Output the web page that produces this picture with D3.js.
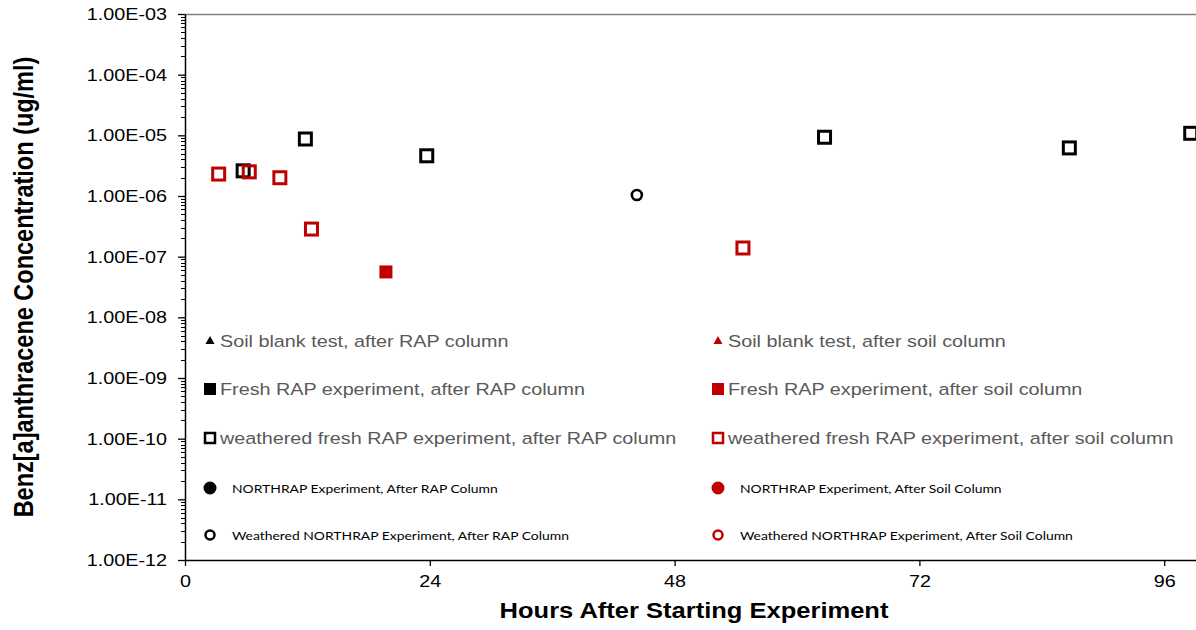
<!DOCTYPE html>
<html>
<head>
<meta charset="utf-8">
<script src="https://cdn.jsdelivr.net/npm/d3@7"></script>
<style>
  html, body { margin: 0; padding: 0; background: #fff; }
  svg { display: block; }
</style>
</head>
<body>
<svg id="chart" width="1196" height="630"></svg>
<script>
// Series: [hours, concentration ug/ml]
const weatheredFreshRapAfterRap = [[5.7, 2.6e-6], [11.8, 8.7e-6], [23.7, 4.6e-6], [62.7, 9.3e-6], [86.7, 6.2e-6], [98.6, 1.08e-5]];
const weatheredFreshRapAfterSoil = [[3.3, 2.3e-6], [6.3, 2.5e-6], [9.3, 2.0e-6], [12.4, 2.85e-7], [54.7, 1.39e-7]];
const freshRapAfterSoil = [[19.7, 5.6e-8]];
const weatheredNorthrapAfterRap = [[44.3, 1.04e-6]];

const xTicks = [0, 24, 48, 72, 96];
const yTicks = [1e-12, 1e-11, 1e-10, 1e-9, 1e-8, 1e-7, 1e-6, 1e-5, 1e-4, 1e-3];

const legendLeft = [
  {label: "Soil blank test, after RAP column", shape: "triangle", fill: "#000", stroke: null, big: true},
  {label: "Fresh RAP experiment, after RAP column", shape: "square", fill: "#000", stroke: null, big: true},
  {label: "weathered fresh RAP experiment, after RAP column", shape: "square", fill: "#fff", stroke: "#000", big: true},
  {label: "NORTHRAP Experiment, After RAP Column", shape: "circle", fill: "#000", stroke: null, big: false},
  {label: "Weathered NORTHRAP Experiment, After RAP Column", shape: "circle", fill: "#fff", stroke: "#000", big: false}
];
const legendRight = [
  {label: "Soil blank test, after soil column", shape: "triangle", fill: "#c00000", stroke: null, big: true},
  {label: "Fresh RAP experiment, after soil column", shape: "square", fill: "#c00000", stroke: null, big: true},
  {label: "weathered fresh RAP experiment, after soil column", shape: "square", fill: "#fff", stroke: "#c00000", big: true},
  {label: "NORTHRAP Experiment, After Soil Column", shape: "circle", fill: "#c00000", stroke: null, big: false},
  {label: "Weathered NORTHRAP Experiment, After Soil Column", shape: "circle", fill: "#fff", stroke: "#c00000", big: false}
];

const svg = d3.select("#chart");
const plotLeft = 185, plotTop = 14, plotBottom = 560;
const pxPerHour = 10.2;
const WIDEN = 1.15;            // horizontal stretch applied to lettering
const SANS = "'Liberation Sans', Arial, sans-serif";

const x = d3.scaleLinear().domain([0, 120]).range([plotLeft, plotLeft + 120 * pxPerHour]);
const y = d3.scaleLog().domain([1e-12, 1e-3]).range([plotBottom, plotTop]);

const fmtE = v => {
  const e = Math.round(Math.log10(v));
  const m = v / Math.pow(10, e);
  const sign = e < 0 ? "-" : "+";
  return m.toFixed(2) + "E" + sign + String(Math.abs(e)).padStart(2, "0");
};

// top border
svg.append("line")
  .attr("x1", plotLeft).attr("x2", 1196).attr("y1", plotTop + 0.5).attr("y2", plotTop + 0.5)
  .attr("stroke", "#808080").attr("stroke-width", 1.5);

// minor log ticks
const minor = [];
for (let e = -12; e < -3; e++) for (let k = 2; k <= 9; k++) minor.push(k * Math.pow(10, e));
svg.append("g").selectAll("line").data(minor).join("line")
  .attr("x1", plotLeft - 4).attr("x2", plotLeft)
  .attr("y1", d => Math.round(y(d)) + 0.5).attr("y2", d => Math.round(y(d)) + 0.5)
  .attr("stroke", "#000").attr("stroke-width", 1);

// y axis
const yAxis = d3.axisLeft(y).tickValues(yTicks).tickFormat(fmtE).tickSizeOuter(0).tickSizeInner(7).tickPadding(8);
const gy = svg.append("g").attr("transform", `translate(${plotLeft},0)`).call(yAxis);
gy.select(".domain").attr("stroke", "#000").attr("stroke-width", 1.5);
gy.selectAll(".tick line").attr("stroke", "#000").attr("stroke-width", 1.3);
gy.selectAll("text")
  .attr("font-family", SANS).attr("font-size", 17.2).attr("fill", "#000")
  .attr("x", -18 / WIDEN).attr("transform", `scale(${WIDEN},1)`);

// x axis
const xAxis = d3.axisBottom(x).tickValues(xTicks).tickSizeOuter(0).tickSizeInner(6).tickPadding(9);
const gx = svg.append("g").attr("transform", `translate(0,${plotBottom})`).call(xAxis);
gx.select(".domain").attr("stroke", "#000").attr("stroke-width", 1.5);
gx.selectAll(".tick line").attr("stroke", "#000").attr("stroke-width", 1.3);
gx.selectAll("text")
  .attr("font-family", SANS).attr("font-size", 17.2).attr("fill", "#000")
  .attr("transform", `scale(${WIDEN},1)`);

// axis titles
svg.append("text")
  .attr("transform", `translate(${x(49.9)},618) scale(${WIDEN},1)`)
  .attr("text-anchor", "middle")
  .attr("font-family", SANS).attr("font-weight", "bold").attr("font-size", 22.2)
  .text("Hours After Starting Experiment");
svg.append("text")
  .attr("transform", `translate(33,287) scale(${WIDEN},1) rotate(-90)`)
  .attr("text-anchor", "middle")
  .attr("font-family", SANS).attr("font-weight", "bold").attr("font-size", 23.5)
  .text("Benz[a]anthracene Concentration (ug/ml)");

// data markers
const plot = svg.append("g");
function squares(data, fill, stroke) {
  plot.selectAll(null).data(data).join("rect")
    .attr("x", d => x(d[0]) - 6).attr("y", d => y(d[1]) - 6)
    .attr("width", 12).attr("height", 12)
    .attr("fill", fill)
    .attr("stroke", stroke || "none").attr("stroke-width", stroke ? 3 : 0);
}
squares(weatheredFreshRapAfterRap, "none", "#000");
squares(weatheredFreshRapAfterSoil, "none", "#c00000");
plot.selectAll(null).data(freshRapAfterSoil).join("rect")
  .attr("x", d => x(d[0]) - 6.5).attr("y", d => y(d[1]) - 6.5)
  .attr("width", 13).attr("height", 13).attr("fill", "#c00000");
plot.selectAll(null).data(weatheredNorthrapAfterRap).join("circle")
  .attr("cx", d => x(d[0])).attr("cy", d => y(d[1])).attr("r", 5)
  .attr("fill", "none").attr("stroke", "#000").attr("stroke-width", 2.6);

// legend
const rowsY = [341, 389, 438, 488, 535];
function legendColumn(items, mx) {
  const g = svg.append("g");
  items.forEach((it, i) => {
    const cy = rowsY[i];
    if (it.shape === "triangle") {
      g.append("path").attr("d", `M${mx},${cy - 5} L${mx + 4.5},${cy + 3} L${mx - 4.5},${cy + 3} Z`).attr("fill", it.fill);
    } else if (it.shape === "square") {
      if (it.stroke) {
        g.append("rect").attr("x", mx - 5).attr("y", cy - 5).attr("width", 10).attr("height", 10)
          .attr("fill", it.fill).attr("stroke", it.stroke).attr("stroke-width", 2.5);
      } else {
        g.append("rect").attr("x", mx - 6).attr("y", cy - 6).attr("width", 12).attr("height", 12).attr("fill", it.fill);
      }
    } else {
      if (it.stroke) {
        g.append("circle").attr("cx", mx).attr("cy", cy).attr("r", 4.5)
          .attr("fill", it.fill).attr("stroke", it.stroke).attr("stroke-width", 2.5);
      } else {
        g.append("circle").attr("cx", mx).attr("cy", cy).attr("r", 6.5).attr("fill", it.fill);
      }
    }
    if (it.big) {
      g.append("text").attr("transform", `translate(${mx + 10},${cy + 6}) scale(${WIDEN},1)`)
        .attr("font-family", SANS).attr("font-size", 17.2).attr("fill", "#595959")
        .text(it.label);
    } else {
      g.append("text").attr("transform", `translate(${mx + 22},${cy + 5}) scale(${WIDEN},1)`)
        .attr("font-family", "Lato, 'Open Sans', sans-serif").attr("font-size", 12.1).attr("fill", "#000")
        .text(it.label);
    }
  });
}
legendColumn(legendLeft, 210);
legendColumn(legendRight, 718);
</script>
</body>
</html>
